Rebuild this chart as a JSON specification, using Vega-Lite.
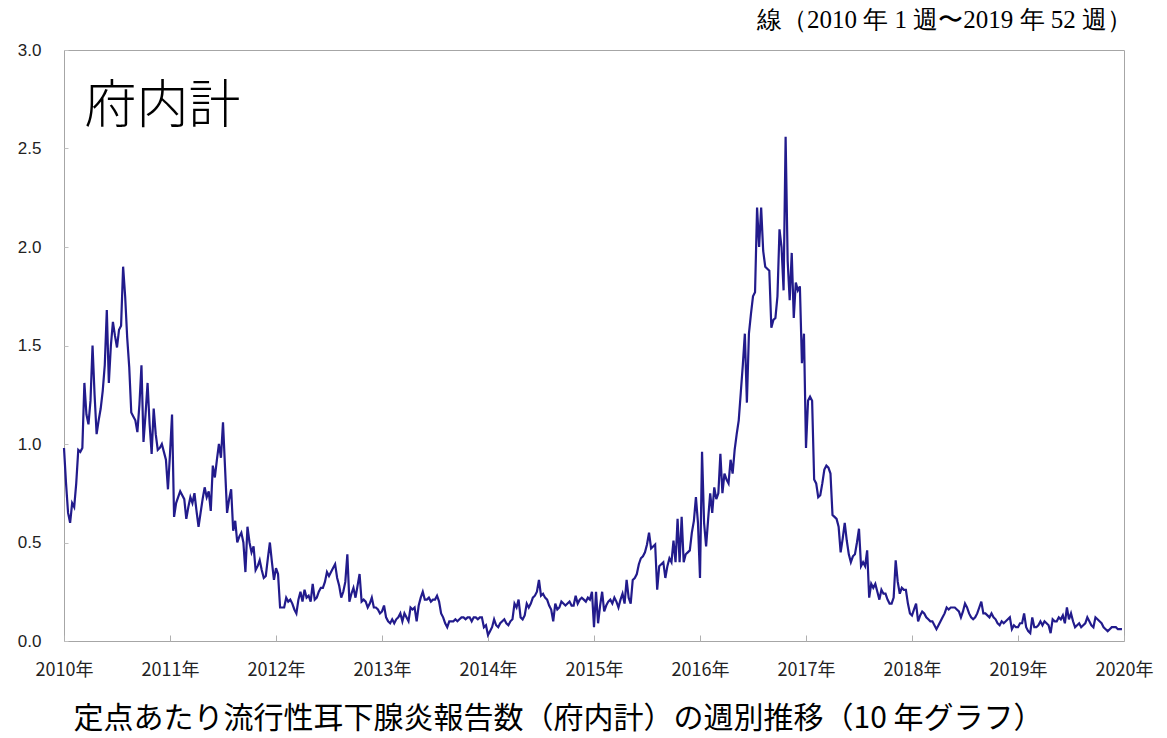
{
"$schema":"https://vega.github.io/schema/vega-lite/v6.json",
"width":1060,"height":591,
"autosize":"none",
"padding":{"left":64,"top":50,"right":43,"bottom":97},
"background":"white",
"config":{"view":{"stroke":"#a6a6a6","strokeWidth":1}},
"title":{"text":"線（2010 年 1 週〜2019 年 52 週）","anchor":"end","frame":"group","font":"Liberation Serif","fontSize":25,"fontWeight":"normal","color":"#000","offset":8,"dx":8},
"datasets":{"main":[
{"w":0,"v":0.98},{"w":1,"v":0.80},{"w":2,"v":0.65},{"w":3,"v":0.60},{"w":4,"v":0.70},{"w":5,"v":0.68},{"w":6,"v":0.80},{"w":7,"v":0.97},{"w":8,"v":0.96},{"w":9,"v":0.98},{"w":10,"v":1.31},{"w":11,"v":1.15},{"w":12,"v":1.10},{"w":13,"v":1.22},{"w":14,"v":1.50},{"w":15,"v":1.25},{"w":16,"v":1.05},{"w":17,"v":1.12},{"w":18,"v":1.18},{"w":19,"v":1.27},{"w":20,"v":1.40},{"w":21,"v":1.68},{"w":22,"v":1.31},{"w":23,"v":1.50},{"w":24,"v":1.62},{"w":25,"v":1.55},{"w":26,"v":1.49},{"w":27,"v":1.58},{"w":28,"v":1.60},{"w":29,"v":1.90},{"w":30,"v":1.75},{"w":31,"v":1.54},{"w":32,"v":1.39},{"w":33,"v":1.16},{"w":34,"v":1.14},{"w":35,"v":1.12},{"w":36,"v":1.06},{"w":37,"v":1.20},{"w":38,"v":1.40},{"w":39,"v":1.01},{"w":40,"v":1.15},{"w":41,"v":1.31},{"w":42,"v":1.10},{"w":43,"v":0.95},{"w":44,"v":1.18},{"w":45,"v":1.05},{"w":46,"v":0.97},{"w":47,"v":0.98},{"w":48,"v":1.00},{"w":49,"v":0.96},{"w":50,"v":0.92},{"w":51,"v":0.77},
{"w":52,"v":0.95},{"w":53,"v":1.15},{"w":54,"v":0.63},{"w":55,"v":0.70},{"w":56,"v":0.73},{"w":57,"v":0.76},{"w":58,"v":0.74},{"w":59,"v":0.72},{"w":60,"v":0.62},{"w":61,"v":0.68},{"w":62,"v":0.73},{"w":63,"v":0.70},{"w":64,"v":0.75},{"w":65,"v":0.66},{"w":66,"v":0.58},{"w":67,"v":0.65},{"w":68,"v":0.72},{"w":69,"v":0.78},{"w":70,"v":0.73},{"w":71,"v":0.76},{"w":72,"v":0.66},{"w":73,"v":0.89},{"w":74,"v":0.83},{"w":75,"v":0.92},{"w":76,"v":1.00},{"w":77,"v":0.93},{"w":78,"v":1.11},{"w":79,"v":0.88},{"w":80,"v":0.65},{"w":81,"v":0.72},{"w":82,"v":0.77},{"w":83,"v":0.56},{"w":84,"v":0.61},{"w":85,"v":0.50},{"w":86,"v":0.53},{"w":87,"v":0.55},{"w":88,"v":0.50},{"w":89,"v":0.35},{"w":90,"v":0.58},{"w":91,"v":0.50},{"w":92,"v":0.45},{"w":93,"v":0.48},{"w":94,"v":0.36},{"w":95,"v":0.38},{"w":96,"v":0.41},{"w":97,"v":0.36},{"w":98,"v":0.32},{"w":99,"v":0.33},{"w":100,"v":0.42},{"w":101,"v":0.50},{"w":102,"v":0.40},{"w":103,"v":0.31},
{"w":104,"v":0.37},{"w":105,"v":0.34},{"w":106,"v":0.17},{"w":107,"v":0.17},{"w":108,"v":0.17},{"w":109,"v":0.22},{"w":110,"v":0.20},{"w":111,"v":0.21},{"w":112,"v":0.19},{"w":113,"v":0.16},{"w":114,"v":0.14},{"w":115,"v":0.21},{"w":116,"v":0.25},{"w":117,"v":0.20},{"w":118,"v":0.26},{"w":119,"v":0.22},{"w":120,"v":0.23},{"w":121,"v":0.20},{"w":122,"v":0.29},{"w":123,"v":0.21},{"w":124,"v":0.22},{"w":125,"v":0.25},{"w":126,"v":0.27},{"w":127,"v":0.27},{"w":128,"v":0.30},{"w":129,"v":0.35},{"w":130,"v":0.33},{"w":131,"v":0.35},{"w":132,"v":0.37},{"w":133,"v":0.39},{"w":134,"v":0.32},{"w":135,"v":0.28},{"w":136,"v":0.22},{"w":137,"v":0.25},{"w":138,"v":0.30},{"w":139,"v":0.44},{"w":140,"v":0.20},{"w":141,"v":0.24},{"w":142,"v":0.27},{"w":143,"v":0.22},{"w":144,"v":0.28},{"w":145,"v":0.34},{"w":146,"v":0.20},{"w":147,"v":0.21},{"w":148,"v":0.20},{"w":149,"v":0.17},{"w":150,"v":0.19},{"w":151,"v":0.22},{"w":152,"v":0.17},{"w":153,"v":0.17},{"w":154,"v":0.16},{"w":155,"v":0.14},
{"w":156,"v":0.15},{"w":157,"v":0.18},{"w":158,"v":0.12},{"w":159,"v":0.10},{"w":160,"v":0.09},{"w":161,"v":0.11},{"w":162,"v":0.09},{"w":163,"v":0.11},{"w":164,"v":0.12},{"w":165,"v":0.14},{"w":166,"v":0.10},{"w":167,"v":0.14},{"w":168,"v":0.12},{"w":169,"v":0.10},{"w":170,"v":0.17},{"w":171,"v":0.16},{"w":172,"v":0.17},{"w":173,"v":0.10},{"w":174,"v":0.18},{"w":175,"v":0.22},{"w":176,"v":0.25},{"w":177,"v":0.21},{"w":178,"v":0.21},{"w":179,"v":0.22},{"w":180,"v":0.20},{"w":181,"v":0.21},{"w":182,"v":0.21},{"w":183,"v":0.23},{"w":184,"v":0.20},{"w":185,"v":0.14},{"w":186,"v":0.12},{"w":187,"v":0.09},{"w":188,"v":0.07},{"w":189,"v":0.10},{"w":190,"v":0.10},{"w":191,"v":0.10},{"w":192,"v":0.11},{"w":193,"v":0.10},{"w":194,"v":0.11},{"w":195,"v":0.12},{"w":196,"v":0.12},{"w":197,"v":0.11},{"w":198,"v":0.12},{"w":199,"v":0.12},{"w":200,"v":0.10},{"w":201,"v":0.12},{"w":202,"v":0.12},{"w":203,"v":0.11},{"w":204,"v":0.12},{"w":205,"v":0.12},{"w":206,"v":0.07},{"w":207,"v":0.08},
{"w":208,"v":0.03},{"w":209,"v":0.05},{"w":210,"v":0.07},{"w":211,"v":0.11},{"w":212,"v":0.08},{"w":213,"v":0.07},{"w":214,"v":0.09},{"w":215,"v":0.10},{"w":216,"v":0.11},{"w":217,"v":0.09},{"w":218,"v":0.08},{"w":219,"v":0.10},{"w":220,"v":0.11},{"w":221,"v":0.19},{"w":222,"v":0.17},{"w":223,"v":0.21},{"w":224,"v":0.12},{"w":225,"v":0.11},{"w":226,"v":0.13},{"w":227,"v":0.19},{"w":228,"v":0.17},{"w":229,"v":0.19},{"w":230,"v":0.22},{"w":231,"v":0.23},{"w":232,"v":0.25},{"w":233,"v":0.31},{"w":234,"v":0.23},{"w":235,"v":0.24},{"w":236,"v":0.22},{"w":237,"v":0.21},{"w":238,"v":0.18},{"w":239,"v":0.16},{"w":240,"v":0.10},{"w":241,"v":0.19},{"w":242,"v":0.16},{"w":243,"v":0.17},{"w":244,"v":0.20},{"w":245,"v":0.19},{"w":246,"v":0.18},{"w":247,"v":0.19},{"w":248,"v":0.20},{"w":249,"v":0.18},{"w":250,"v":0.18},{"w":251,"v":0.23},{"w":252,"v":0.19},{"w":253,"v":0.21},{"w":254,"v":0.22},{"w":255,"v":0.21},{"w":256,"v":0.20},{"w":257,"v":0.22},{"w":258,"v":0.21},{"w":259,"v":0.25},
{"w":260,"v":0.07},{"w":261,"v":0.25},{"w":262,"v":0.09},{"w":263,"v":0.18},{"w":264,"v":0.25},{"w":265,"v":0.15},{"w":266,"v":0.18},{"w":267,"v":0.20},{"w":268,"v":0.21},{"w":269,"v":0.19},{"w":270,"v":0.22},{"w":271,"v":0.20},{"w":272,"v":0.17},{"w":273,"v":0.21},{"w":274,"v":0.24},{"w":275,"v":0.19},{"w":276,"v":0.31},{"w":277,"v":0.22},{"w":278,"v":0.19},{"w":279,"v":0.31},{"w":280,"v":0.32},{"w":281,"v":0.34},{"w":282,"v":0.39},{"w":283,"v":0.42},{"w":284,"v":0.43},{"w":285,"v":0.45},{"w":286,"v":0.49},{"w":287,"v":0.55},{"w":288,"v":0.47},{"w":289,"v":0.48},{"w":290,"v":0.49},{"w":291,"v":0.26},{"w":292,"v":0.38},{"w":293,"v":0.39},{"w":294,"v":0.40},{"w":295,"v":0.32},{"w":296,"v":0.38},{"w":297,"v":0.42},{"w":298,"v":0.40},{"w":299,"v":0.51},{"w":300,"v":0.40},{"w":301,"v":0.62},{"w":302,"v":0.40},{"w":303,"v":0.63},{"w":304,"v":0.40},{"w":305,"v":0.44},{"w":306,"v":0.45},{"w":307,"v":0.46},{"w":308,"v":0.55},{"w":309,"v":0.61},{"w":310,"v":0.73},{"w":311,"v":0.60},
{"w":312,"v":0.32},{"w":313,"v":0.96},{"w":314,"v":0.60},{"w":315,"v":0.48},{"w":316,"v":0.62},{"w":317,"v":0.75},{"w":318,"v":0.65},{"w":319,"v":0.78},{"w":320,"v":0.72},{"w":321,"v":0.75},{"w":322,"v":0.95},{"w":323,"v":0.75},{"w":324,"v":0.85},{"w":325,"v":0.82},{"w":326,"v":0.80},{"w":327,"v":0.92},{"w":328,"v":0.85},{"w":329,"v":0.97},{"w":330,"v":1.05},{"w":331,"v":1.12},{"w":332,"v":1.26},{"w":333,"v":1.40},{"w":334,"v":1.56},{"w":335,"v":1.21},{"w":336,"v":1.56},{"w":337,"v":1.66},{"w":338,"v":1.75},{"w":339,"v":1.77},{"w":340,"v":2.20},{"w":341,"v":2.00},{"w":342,"v":2.20},{"w":343,"v":1.98},{"w":344,"v":1.90},{"w":345,"v":1.89},{"w":346,"v":1.88},{"w":347,"v":1.59},{"w":348,"v":1.63},{"w":349,"v":1.64},{"w":350,"v":1.75},{"w":351,"v":2.09},{"w":352,"v":2.00},{"w":353,"v":1.78},{"w":354,"v":2.56},{"w":355,"v":1.93},{"w":356,"v":1.73},{"w":357,"v":1.97},{"w":358,"v":1.64},{"w":359,"v":1.82},{"w":360,"v":1.78},{"w":361,"v":1.80},{"w":362,"v":1.41},{"w":363,"v":1.56},
{"w":364,"v":0.98},{"w":365,"v":1.22},{"w":366,"v":1.24},{"w":367,"v":1.22},{"w":368,"v":0.82},{"w":369,"v":0.80},{"w":370,"v":0.73},{"w":371,"v":0.74},{"w":372,"v":0.80},{"w":373,"v":0.87},{"w":374,"v":0.89},{"w":375,"v":0.88},{"w":376,"v":0.85},{"w":377,"v":0.64},{"w":378,"v":0.63},{"w":379,"v":0.62},{"w":380,"v":0.58},{"w":381,"v":0.45},{"w":382,"v":0.52},{"w":383,"v":0.60},{"w":384,"v":0.51},{"w":385,"v":0.44},{"w":386,"v":0.40},{"w":387,"v":0.43},{"w":388,"v":0.44},{"w":389,"v":0.50},{"w":390,"v":0.57},{"w":391,"v":0.38},{"w":392,"v":0.40},{"w":393,"v":0.38},{"w":394,"v":0.46},{"w":395,"v":0.22},{"w":396,"v":0.29},{"w":397,"v":0.27},{"w":398,"v":0.29},{"w":399,"v":0.25},{"w":400,"v":0.21},{"w":401,"v":0.26},{"w":402,"v":0.24},{"w":403,"v":0.24},{"w":404,"v":0.21},{"w":405,"v":0.19},{"w":406,"v":0.19},{"w":407,"v":0.22},{"w":408,"v":0.41},{"w":409,"v":0.30},{"w":410,"v":0.24},{"w":411,"v":0.27},{"w":412,"v":0.26},{"w":413,"v":0.26},{"w":414,"v":0.19},{"w":415,"v":0.14},
{"w":416,"v":0.13},{"w":417,"v":0.16},{"w":418,"v":0.19},{"w":419,"v":0.10},{"w":420,"v":0.13},{"w":421,"v":0.15},{"w":422,"v":0.14},{"w":423,"v":0.12},{"w":424,"v":0.11},{"w":425,"v":0.10},{"w":426,"v":0.10},{"w":427,"v":0.08},{"w":428,"v":0.06},{"w":429,"v":0.08},{"w":430,"v":0.10},{"w":431,"v":0.12},{"w":432,"v":0.14},{"w":433,"v":0.17},{"w":434,"v":0.16},{"w":435,"v":0.17},{"w":436,"v":0.17},{"w":437,"v":0.17},{"w":438,"v":0.16},{"w":439,"v":0.15},{"w":440,"v":0.12},{"w":441,"v":0.15},{"w":442,"v":0.19},{"w":443,"v":0.17},{"w":444,"v":0.14},{"w":445,"v":0.12},{"w":446,"v":0.11},{"w":447,"v":0.12},{"w":448,"v":0.14},{"w":449,"v":0.17},{"w":450,"v":0.20},{"w":451,"v":0.14},{"w":452,"v":0.14},{"w":453,"v":0.13},{"w":454,"v":0.12},{"w":455,"v":0.14},{"w":456,"v":0.12},{"w":457,"v":0.11},{"w":458,"v":0.09},{"w":459,"v":0.08},{"w":460,"v":0.10},{"w":461,"v":0.09},{"w":462,"v":0.10},{"w":463,"v":0.11},{"w":464,"v":0.12},{"w":465,"v":0.06},{"w":466,"v":0.08},{"w":467,"v":0.07},
{"w":468,"v":0.07},{"w":469,"v":0.09},{"w":470,"v":0.09},{"w":471,"v":0.14},{"w":472,"v":0.07},{"w":473,"v":0.05},{"w":474,"v":0.04},{"w":475,"v":0.12},{"w":476,"v":0.07},{"w":477,"v":0.07},{"w":478,"v":0.08},{"w":479,"v":0.10},{"w":480,"v":0.08},{"w":481,"v":0.10},{"w":482,"v":0.09},{"w":483,"v":0.08},{"w":484,"v":0.04},{"w":485,"v":0.11},{"w":486,"v":0.10},{"w":487,"v":0.10},{"w":488,"v":0.12},{"w":489,"v":0.11},{"w":490,"v":0.13},{"w":491,"v":0.09},{"w":492,"v":0.17},{"w":493,"v":0.11},{"w":494,"v":0.14},{"w":495,"v":0.10},{"w":496,"v":0.07},{"w":497,"v":0.08},{"w":498,"v":0.09},{"w":499,"v":0.07},{"w":500,"v":0.08},{"w":501,"v":0.09},{"w":502,"v":0.12},{"w":503,"v":0.10},{"w":504,"v":0.08},{"w":505,"v":0.07},{"w":506,"v":0.12},{"w":507,"v":0.11},{"w":508,"v":0.10},{"w":509,"v":0.09},{"w":510,"v":0.07},{"w":511,"v":0.06},{"w":512,"v":0.05},{"w":513,"v":0.06},{"w":514,"v":0.07},{"w":515,"v":0.07},{"w":516,"v":0.07},{"w":517,"v":0.06},{"w":518,"v":0.06},{"w":519,"v":0.06}
],
"label":[{"label":"府内計"}]},
"layer":[
{"data":{"name":"main"},
"mark":{"type":"line","color":"#221b8c","strokeWidth":2.2},
"encoding":{
"x":{"field":"w","type":"quantitative","scale":{"domain":[0,520],"nice":false,"zero":false},
"axis":{"values":[0,52,104,156,208,260,312,364,416,468,520],"labelExpr":"(2010 + datum.value/52) + '年'","labelFont":"Noto Sans CJK JP","labelFontSize":18,"labelColor":"#222","labelPadding":26,"tickSize":-6,"tickColor":"#b0b0b0","domain":false,"grid":false,"labelFlush":false,
"title":"定点あたり流行性耳下腺炎報告数（府内計）の週別推移（10 年グラフ）","titleFont":"Noto Sans CJK JP","titleFontSize":30,"titleFontWeight":"normal","titleColor":"#000","titleX":494,"titleY":77,"titleBaseline":"middle","titleAlign":"center"}},
"y":{"field":"v","type":"quantitative","scale":{"domain":[0,3],"nice":false},
"axis":{"values":[0,0.5,1,1.5,2,2.5,3],"format":".1f","labelFont":"Liberation Sans","labelFontSize":17,"labelColor":"#222","labelPadding":27,"tickSize":-4,"tickColor":"#c0c0c0","domain":false,"grid":false,"title":null}}}},
{"data":{"name":"label"},
"mark":{"type":"text","align":"left","baseline":"middle","fontSize":52,"fontWeight":300,"font":"Noto Sans CJK JP","color":"#000"},
"encoding":{"text":{"field":"label"},"x":{"datum":10},"y":{"datum":2.71}}}
]
}
